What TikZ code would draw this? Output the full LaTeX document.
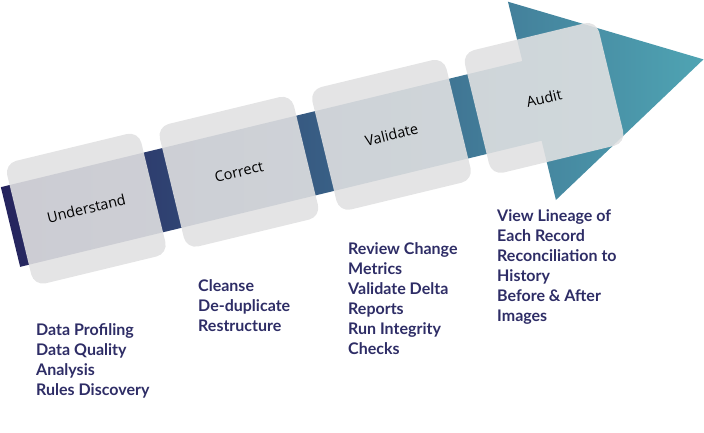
\documentclass[tikz,border=0pt]{standalone}
\usepackage{fontspec}
\setmainfont{Open Sans}
\newfontfamily\listfont{Lato}
\definecolor{arrowL}{HTML}{25235D}
\definecolor{arrowR}{HTML}{4FA4B3}
\definecolor{boxgray}{RGB}{225,225,226}
\definecolor{listnavy}{HTML}{2E2D66}
\tikzset{
  stagebox/.style={transform shape, rounded corners=12pt, fill=boxgray, fill opacity=0.89, text opacity=1,
    minimum width=138pt, minimum height=126pt, inner sep=0pt, text=black, font=\fontsize{14.5}{16}\selectfont},
  listtext/.style={anchor=base west, inner sep=0pt, text=listnavy, font=\listfont\bfseries\fontsize{16}{20}\selectfont}
}
\begin{document}
\begin{tikzpicture}[x=1pt,y=1pt]
\useasboundingbox (0,0) rectangle (704,432);
\begin{scope}[shift={(10.5,205)}, rotate=13.6]
  \shade[left color=arrowL, right color=arrowR]
    (0,-41) -- (536.5,-41) -- (536.5,-102) -- (713,0) -- (536.5,102) -- (536.5,41) -- (0,41) -- cycle;
  \node[stagebox] (understand) at (78,0) {Understand};
  \node[stagebox] (correct) at (235,0) {Correct};
  \node[stagebox] (validate) at (392,0) {Validate};
  \node[stagebox] (audit) at (549,0) {Audit};
\end{scope}
\node[listtext] (l1) at (36,97) {\begin{tabular}[t]{@{}l@{}}Data Profiling\\Data Quality\\Analysis\\Rules Discovery\end{tabular}};
\node[listtext] (l2) at (198,141) {\begin{tabular}[t]{@{}l@{}}Cleanse\\De-duplicate\\Restructure\end{tabular}};
\node[listtext] (l3) at (348,178) {\begin{tabular}[t]{@{}l@{}}Review Change\\Metrics\\Validate Delta\\Reports\\Run Integrity\\Checks\end{tabular}};
\node[listtext] (l4) at (497,210.5) {\begin{tabular}[t]{@{}l@{}}View Lineage of\\Each Record\\Reconciliation to\\History\\Before \& After\\Images\end{tabular}};
\end{tikzpicture}
\end{document}
